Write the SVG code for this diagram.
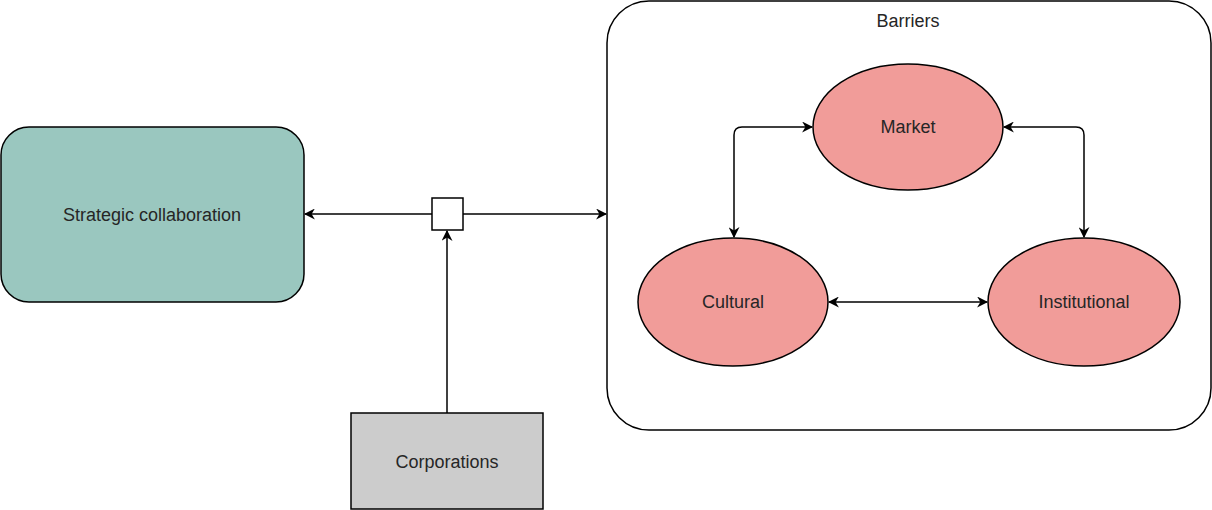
<svg xmlns="http://www.w3.org/2000/svg" width="1212" height="510" viewBox="0 0 1212 510">
  <style>
    .lbl { font-family: "Liberation Sans", Arial, sans-serif; font-size: 18px; fill: #262626; text-anchor: middle; dominant-baseline: central; }
    .edge { fill: none; stroke: #000; stroke-width: 1.5; }
    .ell { fill: #F19C99; stroke: #000; stroke-width: 1.5; }
  </style>
  <defs>
    <marker id="arr" viewBox="0 0 10 10" refX="9" refY="5" markerWidth="11" markerHeight="11" markerUnits="userSpaceOnUse" orient="auto-start-reverse">
      <path d="M0,0 L10,5 L0,10 L3,5 Z" fill="#000"/>
    </marker>
  </defs>

  <rect width="1212" height="510" fill="#fff"/>

  <g id="barriers">
    <rect x="607" y="1" width="604" height="429" rx="42" ry="42" fill="#fff" stroke="#000" stroke-width="1.5"/>
    <text class="lbl" x="908" y="21">Barriers</text>
  </g>

  <g id="strategic-collaboration">
    <rect x="1" y="127" width="303" height="175" rx="28" ry="28" fill="#9AC7BF" stroke="#000" stroke-width="1.5"/>
    <text class="lbl" x="152" y="215">Strategic collaboration</text>
  </g>

  <g id="junction">
    <rect x="432" y="198" width="31" height="32" fill="#fff" stroke="#000" stroke-width="1.5"/>
  </g>

  <g id="corporations">
    <rect x="351" y="413" width="192" height="96" fill="#CCCCCC" stroke="#000" stroke-width="1.5"/>
    <text class="lbl" x="447" y="462">Corporations</text>
  </g>

  <g id="market">
    <ellipse class="ell" cx="908" cy="127" rx="95" ry="63"/>
    <text class="lbl" x="908" y="127">Market</text>
  </g>

  <g id="cultural">
    <ellipse class="ell" cx="733" cy="302" rx="95" ry="64"/>
    <text class="lbl" x="733" y="302">Cultural</text>
  </g>

  <g id="institutional">
    <ellipse class="ell" cx="1084" cy="302" rx="96" ry="64"/>
    <text class="lbl" x="1084" y="302">Institutional</text>
  </g>

  <g id="connectors">
    <path class="edge" d="M432,214 L305,214" marker-end="url(#arr)"/>
    <path class="edge" d="M463,214 L606,214" marker-end="url(#arr)"/>
    <path class="edge" d="M447,413 L447,231" marker-end="url(#arr)"/>
    <path class="edge" d="M734,237 L734,135 Q734,127 742,127 L812,127" marker-start="url(#arr)" marker-end="url(#arr)"/>
    <path class="edge" d="M1004,127 L1076,127 Q1084,127 1084,135 L1084,237" marker-start="url(#arr)" marker-end="url(#arr)"/>
    <path class="edge" d="M829,302 L987,302" marker-start="url(#arr)" marker-end="url(#arr)"/>
  </g>
</svg>
